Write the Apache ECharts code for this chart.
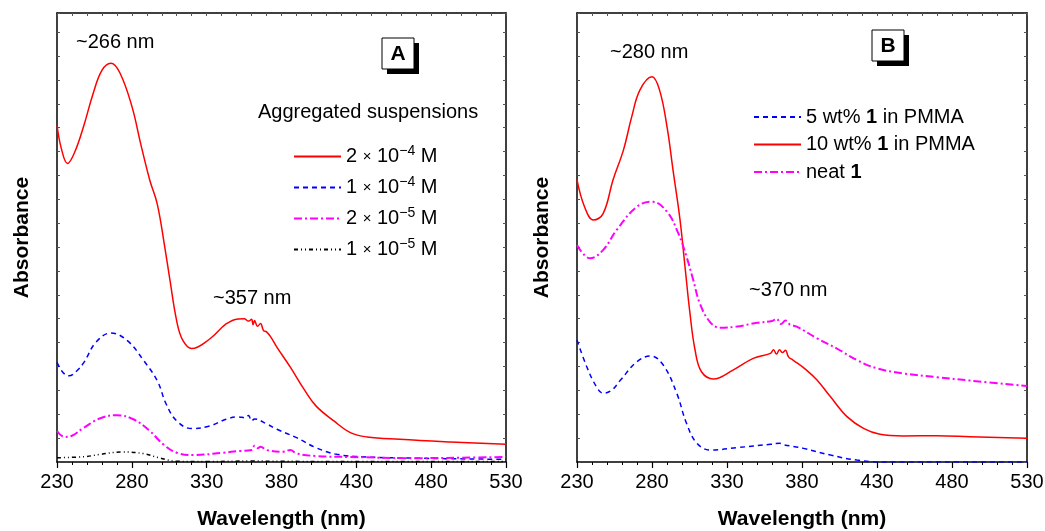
<!DOCTYPE html>
<html>
<head>
<meta charset="utf-8">
<script src="https://cdn.jsdelivr.net/npm/echarts@6/dist/echarts.min.js"></script>
<style>
  html, body { margin: 0; padding: 0; background: #fff; }
  #chart { width: 1045px; height: 531px; }
</style>
</head>
<body>
<div id="chart"></div>
<script>
// wavelength ticks
var xTicks = [230, 280, 330, 380, 430, 480, 530];

// panel A - aggregated suspensions  [wavelength nm, absorbance]
var a2e4 = [[230, 1.41], [233, 1.31], [237, 1.25], [242, 1.3], [248, 1.41], [254, 1.54], [260, 1.64], [266, 1.67],
    [272, 1.63], [280, 1.49], [286, 1.33], [292, 1.18], [297, 1.08], [302, 0.9], [305.5, 0.76], [310, 0.59],
    [314, 0.51], [320, 0.475], [332, 0.515], [343, 0.578], [351, 0.599], [355, 0.6], [358, 0.59], [360, 0.598],
    [361, 0.575], [362, 0.592], [364, 0.568], [366, 0.58], [368, 0.55], [370, 0.545], [373, 0.522], [377, 0.48],
    [386, 0.396], [395, 0.305], [403, 0.235], [415, 0.172], [426, 0.123], [437, 0.105], [459, 0.095], [493, 0.084], [530, 0.074]];
var a1e4 = [[230, 0.417], [234, 0.375], [238, 0.361], [243, 0.38], [248, 0.417], [256, 0.501], [266, 0.54],
    [277, 0.508], [288, 0.424], [297, 0.34], [303, 0.242], [310, 0.172], [320, 0.14], [332, 0.151], [343, 0.179],
    [351, 0.189], [356, 0.185], [358, 0.195], [360, 0.172], [362, 0.18], [370, 0.16], [377, 0.137], [390, 0.102],
    [403, 0.06], [417, 0.032], [437, 0.021], [470, 0.016], [530, 0.011]];
var a2e5 = [[230, 0.13], [235, 0.105], [240, 0.11], [248, 0.144], [259, 0.183], [270, 0.196], [281, 0.179],
    [292, 0.13], [301, 0.074], [310, 0.039], [321, 0.029], [341, 0.039], [352, 0.046], [360, 0.05], [362, 0.068],
    [364, 0.058], [366, 0.064], [370, 0.05], [381, 0.043], [386, 0.05], [390, 0.036], [403, 0.025], [426, 0.021],
    [470, 0.016], [500, 0.018], [530, 0.021]];
var a1e5 = [[230, 0.018], [248, 0.022], [259, 0.032], [273, 0.042], [288, 0.035], [299, 0.016], [310, 0.003],
    [330, 0.002], [360, 0.004], [380, 0.003], [420, 0.002], [530, 0.002]];

// panel B - films
var b5wt = [[230, 0.511], [236.5, 0.399], [243, 0.315], [247.5, 0.288], [253, 0.3], [259, 0.343], [270, 0.42],
    [279, 0.444], [287.5, 0.406], [296.5, 0.288], [303, 0.162], [310, 0.078], [319, 0.05], [336.5, 0.06],
    [359, 0.074], [365, 0.078], [368, 0.072], [381, 0.057], [399, 0.029], [416.5, 0.008], [436.5, 0], [530, 0]];
var b10wt = [[230, 1.181], [235, 1.069], [241, 1.013], [247.5, 1.041], [254, 1.181], [261, 1.307], [266.5, 1.446],
    [272, 1.558], [280, 1.613], [285, 1.558], [290, 1.404], [294, 1.223], [298.7, 1.013], [302, 0.818],
    [305.3, 0.623], [308.7, 0.469], [313, 0.378], [321, 0.348], [334, 0.385], [347.5, 0.434], [359, 0.455],
    [361, 0.47], [363, 0.452], [365, 0.47], [367, 0.458], [369, 0.468], [371, 0.44], [374, 0.427], [383, 0.385],
    [390, 0.343], [399, 0.273], [410, 0.19], [421, 0.141], [432, 0.116], [447.5, 0.109], [470, 0.11], [492, 0.106], [530, 0.099]];
var bNeat = [[230, 0.909], [238.7, 0.853], [247.5, 0.888], [256.5, 0.972], [270, 1.069], [280, 1.09],
    [290, 1.048], [297.5, 0.958], [303, 0.86], [307.5, 0.762], [312, 0.662], [318.7, 0.586], [325.3, 0.562],
    [336.5, 0.567], [350, 0.583], [360, 0.59], [363, 0.6], [366, 0.578], [369, 0.592], [372, 0.575],
    [376.5, 0.567], [390, 0.518], [403, 0.476], [416.5, 0.427], [430, 0.392], [447.5, 0.371], [470, 0.355],
    [492, 0.341], [530, 0.318]];

var legendText = {
    'A1': '{t|2 }{x|×}{t| 10}{s|−4}{t| M}',
    'A2': '{t|1 }{x|×}{t| 10}{s|−4}{t| M}',
    'A3': '{t|2 }{x|×}{t| 10}{s|−5}{t| M}',
    'A4': '{t|1 }{x|×}{t| 10}{s|−5}{t| M}',
    'B1': '{t|5 wt% }{b|1}{t| in PMMA}',
    'B2': '{t|10 wt% }{b|1}{t| in PMMA}',
    'B3': '{t|neat }{b|1}'
};

var FONT = '"Liberation Sans", Arial, sans-serif';
var richStyle = {
    t: { fontSize: 20, fontFamily: FONT, color: '#000' },
    x: { fontSize: 15, fontFamily: FONT, color: '#000' },
    s: { fontSize: 14, fontFamily: FONT, color: '#000', padding: [0, 0, 11, 0] },
    b: { fontSize: 20, fontFamily: FONT, color: '#000', fontWeight: 'bold' }
};

var myChart = echarts.init(document.getElementById('chart'));

function bottomAxis(idx) {
    return {
        type: 'value', gridIndex: idx, min: 230, max: 530, interval: 50, position: 'bottom',
        axisLine: { onZero: false, lineStyle: { color: '#000', width: 1.5 } },
        axisTick: { length: 6, lineStyle: { color: '#000', width: 1.2 } },
        minorTick: { show: true, splitNumber: 5, length: 3, lineStyle: { color: '#000', width: 1 } },
        axisLabel: { color: '#000', fontSize: 20, fontFamily: FONT, margin: 10, showMinLabel: true, showMaxLabel: true },
        splitLine: { show: false },
        name: 'Wavelength (nm)', nameLocation: 'middle', nameGap: 47,
        nameTextStyle: { color: '#000', fontSize: 21, fontWeight: 'bold', fontFamily: FONT }
    };
}
function topAxis(idx) {
    return {
        type: 'value', gridIndex: idx, min: 230, max: 530, interval: 10, position: 'top',
        axisLine: { onZero: false, lineStyle: { color: '#000', width: 1.5 } },
        axisTick: { inside: true, length: 3, lineStyle: { color: '#555', width: 1 } },
        axisLabel: { show: false }, splitLine: { show: false }
    };
}
function leftAxis(idx) {
    return {
        type: 'value', gridIndex: idx, min: 0, max: 1.88, interval: 0.1, position: 'left',
        axisLine: { show: true, onZero: false, lineStyle: { color: '#000', width: 1.5 } },
        axisTick: { show: true, inside: true, length: 3, lineStyle: { color: '#555', width: 1 } },
        axisLabel: { show: false }, splitLine: { show: false },
        name: 'Absorbance', nameLocation: 'middle', nameGap: 24, nameRotate: 90,
        nameTextStyle: { color: '#000', fontSize: 21, fontWeight: 'bold', fontFamily: FONT }
    };
}
function rightAxis(idx) {
    return {
        type: 'value', gridIndex: idx, min: 0, max: 1.88, interval: 0.1, position: 'right',
        axisLine: { show: true, onZero: false, lineStyle: { color: '#000', width: 1.5 } },
        axisTick: { show: true, inside: true, length: 3, lineStyle: { color: '#555', width: 1 } },
        axisLabel: { show: false }, splitLine: { show: false }
    };
}
function spectrum(name, data, axis, color, type, width) {
    return {
        name: name, type: 'line', data: data, xAxisIndex: axis, yAxisIndex: axis,
        symbol: 'none', smooth: 0.4, silent: true,
        lineStyle: { color: color, type: type, width: width },
        itemStyle: { color: color }
    };
}
function annot(text, x, y) {
    return { type: 'text', left: x, top: y, style: { text: text, font: '20px ' + FONT, fill: '#000' } };
}
function panelBox(letter, x, y) {
    return [
        { type: 'rect', shape: { x: x + 5, y: y + 5, width: 32, height: 31 }, style: { fill: '#000' } },
        { type: 'rect', shape: { x: x, y: y, width: 32, height: 31 }, style: { fill: '#fff', stroke: '#000', lineWidth: 1 } },
        { type: 'text', x: x + 16, y: y + 16, style: { text: letter, font: 'bold 21px ' + FONT, fill: '#000', align: 'center', verticalAlign: 'middle' } }
    ];
}
function legendBox(names, x, y, gap) {
    return {
        data: names, orient: 'vertical', left: x, top: y,
        itemWidth: 47, itemHeight: 14, itemGap: gap, selectedMode: false,
        itemStyle: { opacity: 0 },
        formatter: function (n) { return legendText[n]; },
        textStyle: { lineHeight: 20, rich: richStyle }
    };
}

var option = {
    backgroundColor: '#fff',
    animation: false,
    grid: [
        { left: 57, top: 13, width: 449, height: 449, outerBoundsMode: 'none' },
        { left: 577, top: 13, width: 450, height: 449, outerBoundsMode: 'none' }
    ],
    xAxis: [bottomAxis(0), bottomAxis(1), topAxis(0), topAxis(1)],
    yAxis: [leftAxis(0), leftAxis(1), rightAxis(0), rightAxis(1)],
    legend: [
        legendBox(['A1', 'A2', 'A3', 'A4'], 288, 139, 8.5),
        legendBox(['B1', 'B2', 'B3'], 748, 102, 7.5)
    ],
    graphic: [
        annot('~266 nm', 76, 32),
        annot('~357 nm', 213, 288),
        annot('Aggregated suspensions', 258, 102),
        annot('~280 nm', 610, 42),
        annot('~370 nm', 749, 280)
    ].concat(panelBox('A', 382, 38), panelBox('B', 872, 30)),
    series: [
        spectrum('A1', a2e4, 0, '#ff0000', 'solid', 1.5),
        spectrum('A2', a1e4, 0, '#0000ff', [5, 4], 1.5),
        spectrum('A3', a2e5, 0, '#ff00ff', [8, 3, 2, 3], 2),
        spectrum('A4', a1e5, 0, '#000000', [4, 3, 1, 3, 1, 3], 1.5),
        spectrum('B1', b5wt, 1, '#0000ff', [5, 4], 1.5),
        spectrum('B2', b10wt, 1, '#ff0000', 'solid', 1.5),
        spectrum('B3', bNeat, 1, '#ff00ff', [8, 3, 2, 3], 2)
    ]
};
myChart.setOption(option);
</script>
</body>
</html>
